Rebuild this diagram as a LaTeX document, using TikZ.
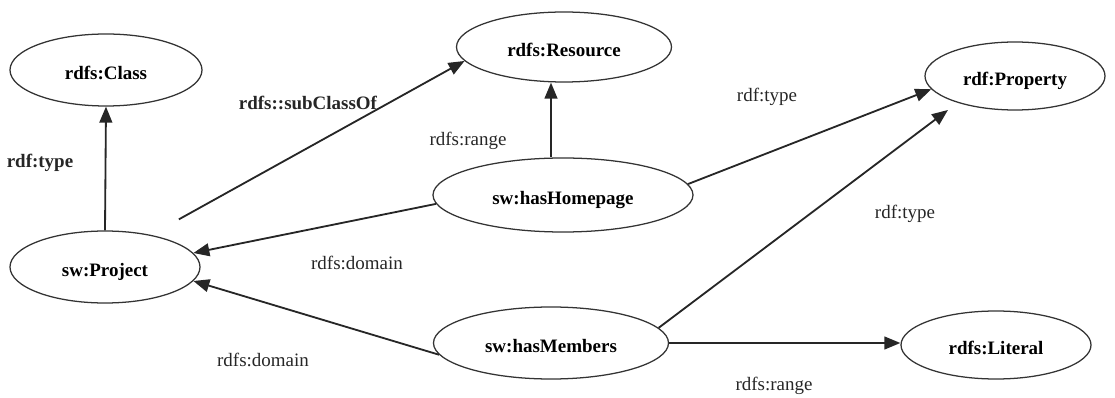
\documentclass[tikz,border=0pt]{standalone}
\usepackage{fontspec}
\setmainfont{Liberation Serif}
\usepackage{tikz}
\usetikzlibrary{arrows.meta, shapes.geometric}

\begin{document}
\begin{tikzpicture}[
  rnode/.style={ellipse, draw=black!80, line width=0.9pt, inner sep=0pt, text height=13pt, text depth=0pt, font=\fontsize{13.5}{15}\selectfont\bfseries},
  elabel/.style={font=\fontsize{13.5}{15}\selectfont, text=black!85},
  arrow/.style={-{Triangle[length=4mm, width=3.2mm]}, line width=1.3pt, draw=black!85}
]
\useasboundingbox (0,0) rectangle (27.875,9.925);
\node[rnode, minimum width=4.8cm, minimum height=1.8cm] (cls) at (2.65,8.175) {rdfs:Class};
\node[rnode, minimum width=5.375cm, minimum height=1.75cm] (res) at (14.1,8.75) {rdfs:Resource};
\node[rnode, minimum width=4.5cm, minimum height=1.7cm] (prop) at (25.375,8.025) {rdf:Property};
\node[rnode, minimum width=6.5cm, minimum height=1.85cm] (home) at (14.075,5.05) {sw:hasHomepage};
\node[rnode, minimum width=4.75cm, minimum height=1.8cm] (proj) at (2.625,3.25) {sw:Project};
\node[rnode, minimum width=5.875cm, minimum height=1.8cm] (mem) at (13.775,1.35) {sw:hasMembers};
\node[rnode, minimum width=4.75cm, minimum height=1.7cm] (lit) at (24.9,1.3) {rdfs:Literal};
\node[elabel, font=\fontsize{13.5}{15}\selectfont\bfseries] (ltypecls) at (1.0,5.85) {rdf:type};
\node[elabel, font=\fontsize{13.5}{15}\selectfont\bfseries] (lsubcls) at (7.7,7.35) {rdfs::subClassOf};
\node[elabel] (lrangeres) at (11.7,6.4) {rdfs:range};
\node[elabel] (ltypehome) at (19.175,7.5) {rdf:type};
\node[elabel] (ltypemem) at (22.625,4.575) {rdf:type};
\node[elabel] (ldomhome) at (8.925,3.35) {rdfs:domain};
\node[elabel] (ldommem) at (6.575,0.925) {rdfs:domain};
\node[elabel] (lrangelit) at (19.35,0.275) {rdfs:range};
\draw[arrow] (proj.north) -- (cls.south);
\draw[arrow, shorten <=8mm] (proj.35) -- (res.188);
\draw[arrow] ([xshift=-3mm]home.north) -- ([xshift=-3mm]home.north |- res.south);
\draw[arrow] (home.184) -- (proj.9);
\draw[arrow] (home.5) -- (prop.189);
\draw[arrow] (mem.186) -- (proj.-9);
\draw[arrow, shorten >=3mm] (mem.8) -- (prop.205);
\draw[arrow] (mem.east) -- (mem.east -| lit.west);
\end{tikzpicture}
\end{document}
